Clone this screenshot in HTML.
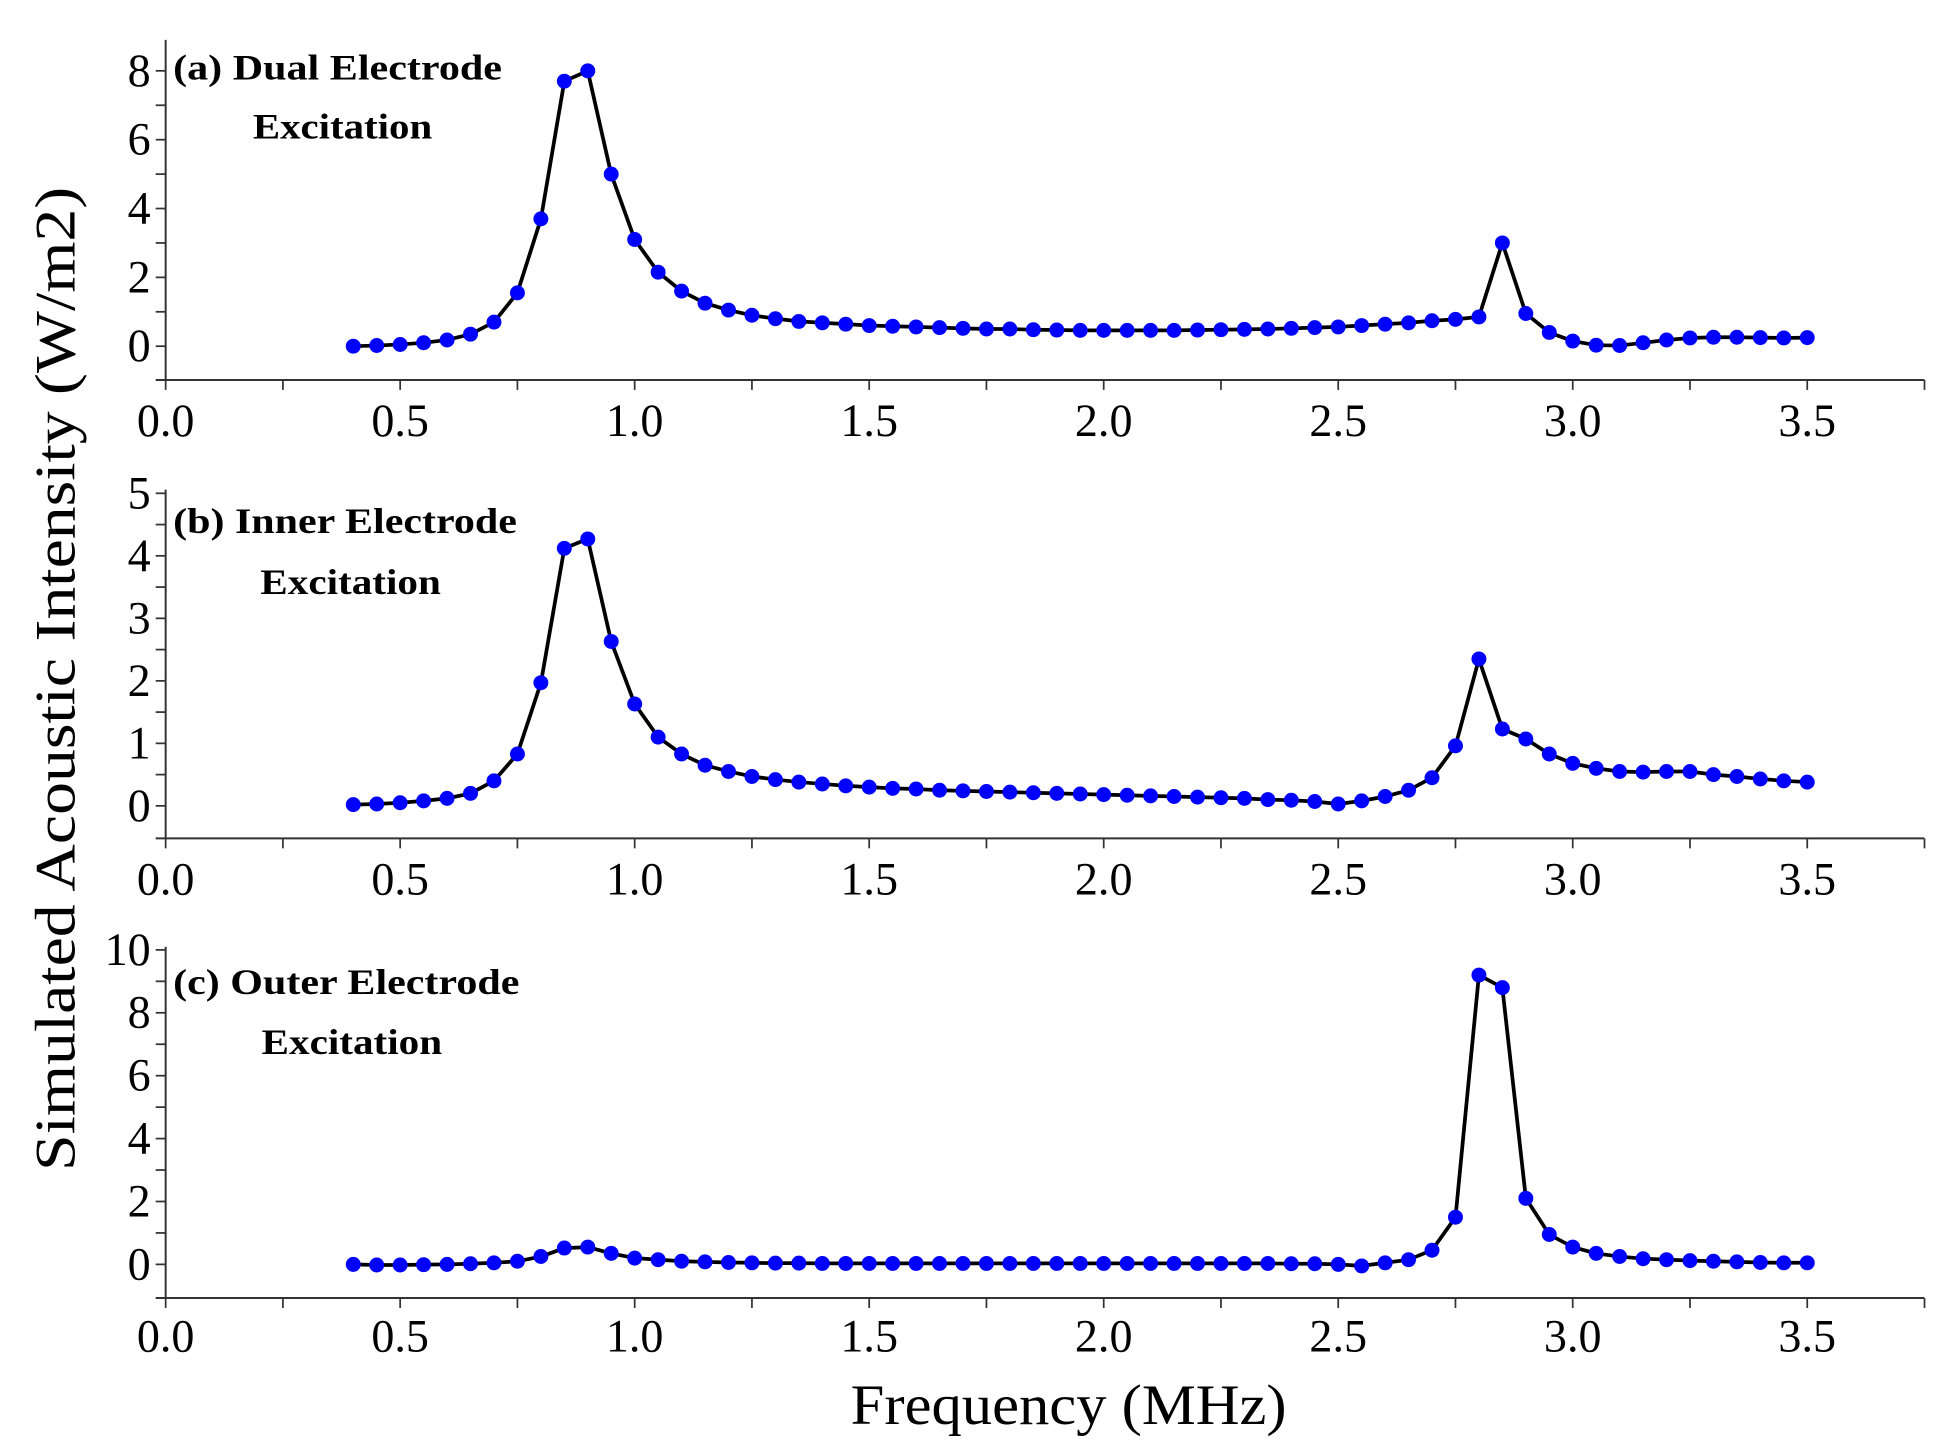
<!DOCTYPE html>
<html><head><meta charset="utf-8"><style>
html,body{margin:0;padding:0;background:#fff;}
svg{display:block;}
text{font-family:"Liberation Serif",serif;fill:#000;}
</style></head><body>
<svg id="chart" width="1943" height="1455" viewBox="0 0 1560 1168" preserveAspectRatio="none" xmlns="http://www.w3.org/2000/svg">
<text transform="translate(60,545) rotate(-90)" text-anchor="middle" font-size="46" textLength="790" lengthAdjust="spacingAndGlyphs">Simulated Acoustic Intensity (W/m2)</text>
<text x="858" y="1143" text-anchor="middle" font-size="46" textLength="350" lengthAdjust="spacingAndGlyphs">Frequency (MHz)</text>
</svg>
<script>
const freq = [];
for (let i = 0; i <= 62; i++) freq.push(+(0.4 + i * 0.05).toFixed(2));
const dualValues = [0,0.02,0.05,0.1,0.18,0.35,0.7,1.55,3.7,7.7,8.0,5.0,3.1,2.15,1.6,1.25,1.05,0.9,0.8,0.72,0.68,0.64,0.6,0.58,0.56,0.54,0.52,0.5,0.5,0.48,0.47,0.46,0.46,0.46,0.46,0.46,0.47,0.48,0.49,0.5,0.52,0.54,0.56,0.6,0.64,0.68,0.74,0.78,0.85,3.0,0.95,0.4,0.15,0.03,0.02,0.1,0.18,0.24,0.26,0.26,0.25,0.24,0.25];
const innerValues = [0.02,0.03,0.05,0.08,0.12,0.2,0.4,0.83,1.97,4.12,4.27,2.63,1.63,1.1,0.83,0.65,0.55,0.47,0.42,0.38,0.35,0.32,0.3,0.28,0.27,0.25,0.24,0.23,0.22,0.21,0.2,0.19,0.18,0.17,0.16,0.15,0.14,0.13,0.12,0.1,0.09,0.07,0.03,0.08,0.15,0.25,0.45,0.96,2.35,1.23,1.07,0.83,0.68,0.6,0.55,0.54,0.55,0.55,0.5,0.47,0.43,0.4,0.38];
const outerValues = [0,-0.02,-0.02,-0.01,0,0.02,0.05,0.1,0.25,0.52,0.55,0.35,0.2,0.15,0.1,0.08,0.06,0.05,0.04,0.04,0.03,0.03,0.03,0.03,0.03,0.03,0.03,0.03,0.03,0.03,0.03,0.03,0.03,0.03,0.03,0.03,0.03,0.03,0.03,0.03,0.02,0.02,0.0,-0.05,0.05,0.15,0.45,1.5,9.2,8.8,2.1,0.95,0.55,0.35,0.25,0.18,0.15,0.12,0.1,0.08,0.06,0.05,0.05];
const xTickLabels = ["0.0","0.5","1.0","1.5","2.0","2.5","3.0","3.5"];
const dualYTicks = [0,2,4,6,8];
const innerYTicks = [0,1,2,3,4,5];
const outerYTicks = [0,2,4,6,8,10];
const panelTitles = [["(a) Dual Electrode","Excitation"],["(b) Inner Electrode","Excitation"],["(c) Outer Electrode","Excitation"]];

const NS = "http://www.w3.org/2000/svg";
const svg = document.getElementById('chart');
function mk(tag, attrs, parent){ const e=document.createElementNS(NS,tag); for(const k in attrs) e.setAttribute(k,attrs[k]); (parent||svg).appendChild(e); return e; }

const X0 = 133, X1 = 1545, PXPERMHZ = (1451-133)/3.5;
const xScale = v => X0 + v * PXPERMHZ;

const panels = [
 {name:'dual', vals:dualValues, ticks:dualYTicks, minor:1, ymin:-0.98, ymax:8.9, top:32, bottom:305, labelY:338, tx:[139,203], ty:[54,101], tw:[264,144]},
 {name:'inner', vals:innerValues, ticks:innerYTicks, minor:0.5, ymin:-0.52, ymax:5.06, top:393, bottom:673, labelY:706, tx:[139,209], ty:[418,467], tw:[276,145]},
 {name:'outer', vals:outerValues, ticks:outerYTicks, minor:1, ymin:-1.07, ymax:10.1, top:760, bottom:1042, labelY:1073, tx:[139,210], ty:[788,836], tw:[278,145]}
];

panels.forEach((p, pi) => {
  const g = mk('g', {});
  
  
  const yScale = v => p.bottom - (v - p.ymin) / (p.ymax - p.ymin) * (p.bottom - p.top);
  const yaxis = mk('line', {x1:X0, y1:p.top, x2:X0, y2:p.bottom, stroke:'#333', 'stroke-width':1.6}, g);
  
  
  const xaxis = mk('line', {x1:X0-8, y1:p.bottom, x2:X1, y2:p.bottom, stroke:'#333', 'stroke-width':1.6}, g);
  
  
  const maxT = p.ticks[p.ticks.length-1];
  for (let v = 0; v <= maxT + 1e-9; v += p.minor) {
    const y = yScale(v);
    mk('line', {x1:X0-8, y1:y, x2:X0, y2:y, stroke:'#333', 'stroke-width':1.4}, g);
  }
  p.ticks.forEach(t => {
    const lab = mk('text', {x:X0-12, y:yScale(t)+12, 'text-anchor':'end', 'font-size':37}, g);
    lab.textContent = t;
    
    
  });
  for (let v = 0; v <= 3.75 + 1e-9; v += 0.25) {
    const x = xScale(v);
    mk('line', {x1:x, y1:p.bottom, x2:x, y2:p.bottom+8, stroke:'#333', 'stroke-width':1.4}, g);
  }
  xTickLabels.forEach((t, i) => {
    const lab = mk('text', {x:xScale(i*0.5), y:p.labelY+12, 'text-anchor':'middle', 'font-size':37}, g);
    lab.textContent = t;
    
    
  });
  panelTitles[pi].forEach((s, i) => {
    const tt = mk('text', {x:p.tx[i], y:p.ty[i]+10, 'font-size':29, 'font-weight':'bold', textLength:p.tw[i], lengthAdjust:'spacingAndGlyphs'}, g);
    tt.textContent = s;
    
    
  });
  const d = p.vals.map((v,i) => (i?'L':'M') + xScale(freq[i]).toFixed(1) + ',' + yScale(v).toFixed(1)).join(' ');
  const path = mk('path', {d:d, fill:'none', stroke:'#000', 'stroke-width':3, 'stroke-linejoin':'round'}, g);
  
  
  p.vals.forEach((v,i) => {
    const c = mk('circle', {cx:xScale(freq[i]), cy:yScale(v), r:6, fill:'#0000ff'}, g);
    
    
  });
});
</script>
</body></html>
